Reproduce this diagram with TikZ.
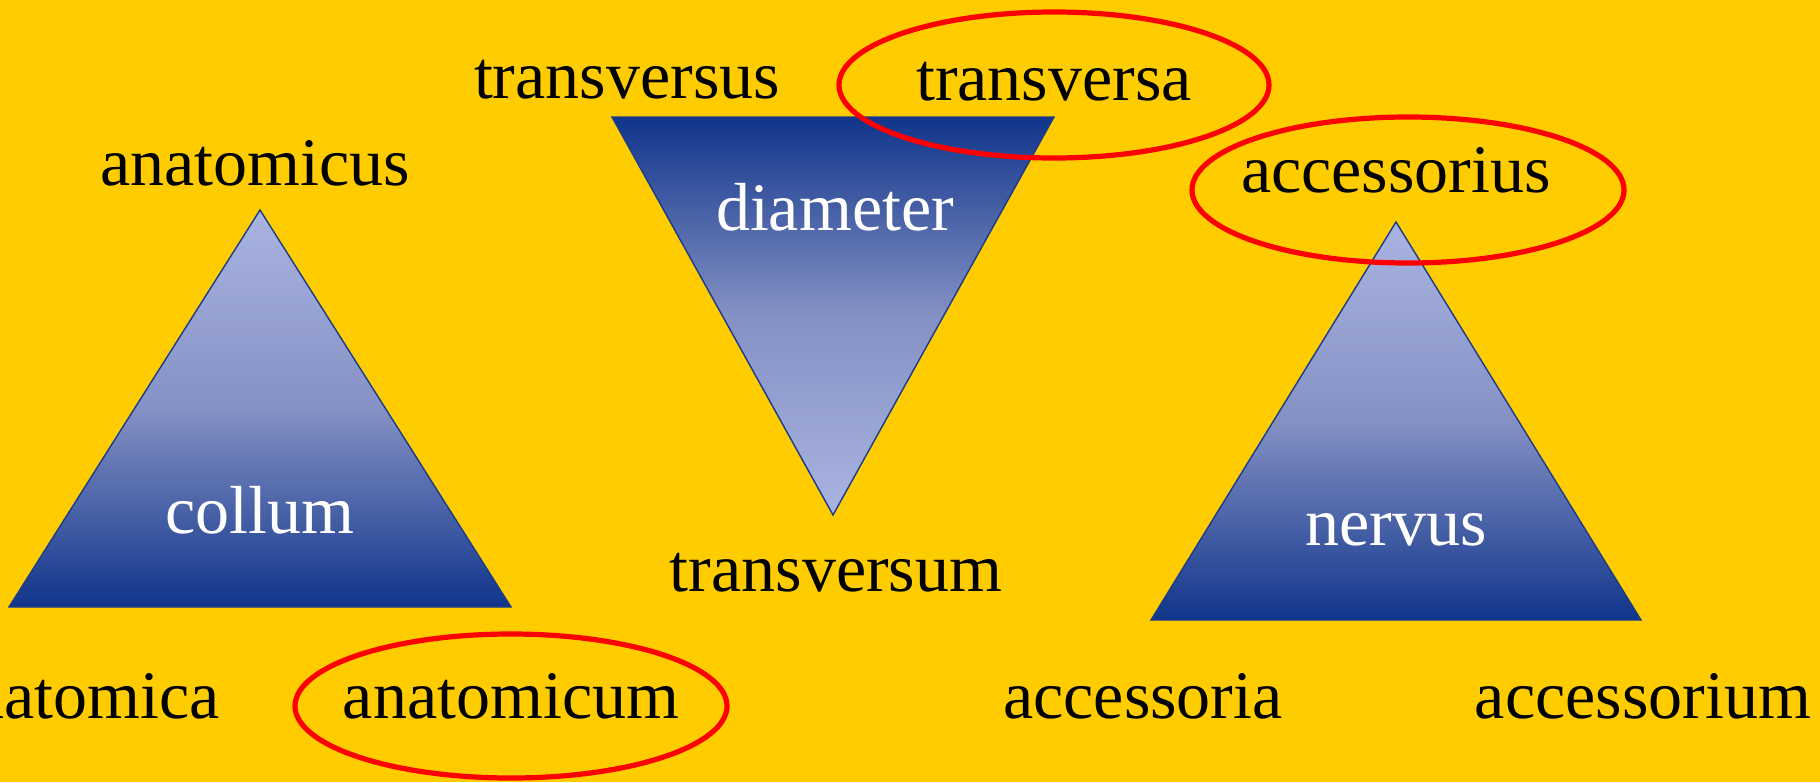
\documentclass[tikz,border=0pt]{standalone}
\usepackage{fontspec}
\setmainfont{Liberation Serif}
\definecolor{Amber}{HTML}{FFCC00}
\definecolor{Deep}{HTML}{10358B}
\definecolor{Mid}{HTML}{8591C4}
\definecolor{Lite}{HTML}{A9B4E1}
\definecolor{Edge}{HTML}{1A3A8A}
\definecolor{Ring}{HTML}{FF0000}
\tikzset{
  word/.style={anchor=base, inner sep=0pt, text=black,
    font=\fontsize{34}{40}\selectfont},
  inword/.style={word, text=white},
  ring/.style={draw=Ring, line width=2.6pt},
  upper/.style={top color=Lite, bottom color=Deep, middle color=Mid,
    draw=Edge, line width=0.7pt},
  lower/.style={top color=Deep, bottom color=Lite, middle color=Mid,
    draw=Edge, line width=0.7pt}
}
\begin{document}
\begin{tikzpicture}[x=0.5pt,y=-0.5pt]
    \useasboundingbox (0,0) rectangle (1820,782);
    \fill[Amber] (0,0) rectangle (1820,782);
    % triangle corners
    \coordinate (l1) at (260,210);
    \coordinate (l2) at (9,607);
    \coordinate (l3) at (511,607);
    \coordinate (m1) at (612,117);
    \coordinate (m2) at (1054,117);
    \coordinate (m3) at (833,515);
    \coordinate (r1) at (1396,222);
    \coordinate (r2) at (1151,620);
    \coordinate (r3) at (1641,620);
    \shade[upper] (l1)--(l2)--(l3)--cycle;
    \shade[lower] (m1)--(m2)--(m3)--cycle;
    \shade[upper] (r1)--(r2)--(r3)--cycle;
    % labels
    \node[word] (a) at (255,185) {anatomicus};
    \node[inword] (b) at (260,533) {collum};
    \node[word] (c) at (80,718) {anatomica};
    \node[word] (d) at (511,718) {anatomicum};
    \node[word] (e) at (627,98) {transversus};
    \node[word] (f) at (1054,100) {transversa};
    \node[inword] (g) at (835,230) {diameter};
    \node[word] (h) at (836,591) {transversum};
    \node[word] (i) at (1396,192) {accessorius};
    \node[inword] (j) at (1396,545) {nervus};
    \node[word] (k) at (1143,718) {accessoria};
    \node[word] (n) at (1643,718) {accessorium};
    % rings
    \draw[ring] (511,706) ellipse [x radius=216, y radius=72];
    \draw[ring] (1054,85) ellipse [x radius=215, y radius=73];
    \draw[ring] (1408,190) ellipse [x radius=216, y radius=73];
\end{tikzpicture}
\end{document}
